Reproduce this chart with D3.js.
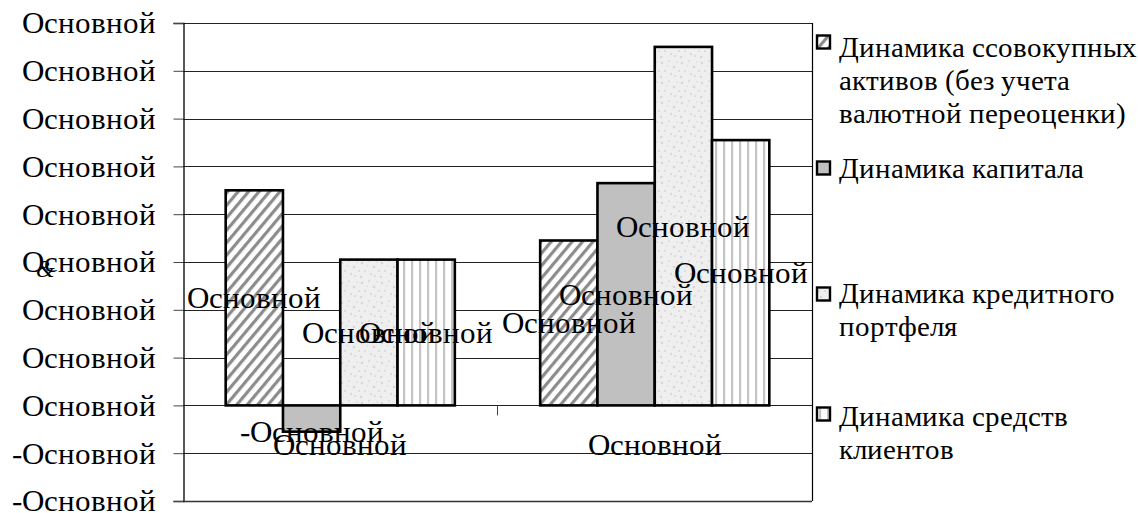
<!DOCTYPE html>
<html lang="ru"><head><meta charset="utf-8">
<script src="https://cdn.jsdelivr.net/npm/d3@7/dist/d3.min.js"></script>
<style>
@font-face { font-family: "ChartSerif"; src: local("Liberation Serif"), local("LiberationSerif"), local("LiberationSerif-Regular"), local("Tinos"), local("Times New Roman"); font-style: normal; font-weight: 400; }
@font-face { font-family: "ChartSerif"; src: local("Liberation Serif Italic"), local("LiberationSerif-Italic"), local("Tinos Italic"); font-style: italic; font-weight: 400; }
body { margin: 0; background: #fff; }
</style>
</head><body>
<script>
const categories = ["Основной", "Основной"];
const seriesNames = [
  ["Динамика ссовокупных", "активов (без учета", "валютной переоценки)"],
  ["Динамика капитала"],
  ["Динамика кредитного", "портфеля"],
  ["Динамика средств", "клиентов"]
];
const assets = [4.5, 3.45];
const capital = [-0.55, 4.65];
const loans = [3.05, 7.5];
const deposits = [3.05, 5.55];
const tickValues = [-2, -1, 0, 1, 2, 3, 4, 5, 6, 7, 8];
const tickLabels = ["-Основной", "-Основной", "Основной", "Основной", "Основной", "Основной", "Основной", "Основной", "Основной", "Основной", "Основной"];
const dataLabel = "Основной";

const series = [assets, capital, loans, deposits];
const W = 1138, H = 513;
const L = 183, R = 812, T = 23, B = 501;
const fs = 31, lfs = 30;
const FAMILY = '"ChartSerif", "Liberation Serif", "Tinos", "Times New Roman", "FreeSerif", "DejaVu Serif"';

function serif(sel, size) {
  return sel.style("font-family", FAMILY).style("font-size", size + "px").attr("fill", "#000");
}

const svg = d3.select("body").append("svg").attr("width", W).attr("height", H).style("display", "block");
const defs = svg.append("defs");
const p1 = defs.append("pattern").attr("id", "p0").attr("patternUnits", "userSpaceOnUse")
  .attr("width", 8).attr("height", 8).attr("patternTransform", "rotate(40)");
p1.append("rect").attr("width", 8).attr("height", 8).attr("fill", "#fff");
p1.append("rect").attr("width", 3.2).attr("height", 8).attr("fill", "#8c8c8c");
defs.append("pattern").attr("id", "p1").attr("patternUnits", "userSpaceOnUse")
  .attr("width", 4).attr("height", 4).append("rect").attr("width", 4).attr("height", 4).attr("fill", "#c0c0c0");
const stippleDots = [[2,3,1.2],[9,1,0.9],[14,7,1.3],[5,11,1],[11,14,1.1],[17,2,0.8],[1,17,1.2],[7,6,0.7],[15,16,0.9],[19,11,1]];
const p3 = defs.append("pattern").attr("id", "p2").attr("patternUnits", "userSpaceOnUse").attr("width", 20).attr("height", 20);
p3.append("rect").attr("width", 20).attr("height", 20).attr("fill", "#efefef");
p3.selectAll("circle").data(stippleDots).join("circle").attr("cx", d => d[0]).attr("cy", d => d[1]).attr("r", d => d[2]).attr("fill", "#d6d6d6");
const p4 = defs.append("pattern").attr("id", "p3").attr("patternUnits", "userSpaceOnUse").attr("width", 8).attr("height", 8);
p4.append("rect").attr("width", 8).attr("height", 8).attr("fill", "#fff");
p4.append("rect").attr("x", 3).attr("width", 2.2).attr("height", 8).attr("fill", "#c4c4c4");

const y = d3.scaleLinear().domain([-2, 8]).range([B, T]);
const x0 = d3.scaleBand().domain(d3.range(categories.length)).range([L, R]);
const x1 = d3.scaleBand().domain(d3.range(series.length)).range([0, x0.bandwidth()]).paddingOuter(0.745);

svg.append("g").selectAll("line").data(tickValues).join("line")
  .attr("x1", L).attr("x2", R).attr("y1", d => Math.round(y(d)) + 0.5).attr("y2", d => Math.round(y(d)) + 0.5)
  .attr("stroke", "#222").attr("stroke-width", 1);
const yAxis = d3.axisLeft(y).tickValues(tickValues).tickSize(10).tickPadding(18)
  .tickFormat((d, i) => tickLabels[i]);
const gy = svg.append("g").attr("transform", `translate(${L + 0.5},0)`).call(yAxis);
gy.attr("font-family", null).attr("font-size", null);
gy.select(".domain").attr("stroke", "#000").attr("stroke-width", 1.3);
gy.selectAll(".tick line").attr("stroke", "#444");
serif(gy.selectAll(".tick text"), fs).attr("dy", "0.32em");
svg.append("line").attr("x1", R + 0.5).attr("x2", R + 0.5).attr("y1", T).attr("y2", B).attr("stroke", "#000").attr("stroke-width", 1.2);
svg.append("line").attr("x1", L).attr("x2", R).attr("y1", B + 0.5).attr("y2", B + 0.5).attr("stroke", "#333").attr("stroke-width", 1.6);
svg.append("g").selectAll("line").data(d3.range(1, categories.length)).join("line")
  .attr("x1", d => x0(d)).attr("x2", d => x0(d)).attr("y1", y(0)).attr("y2", y(0) + 10).attr("stroke", "#444");

const gb = svg.append("g");
series.forEach((vals, si) => {
  gb.selectAll(null).data(vals).join("rect")
    .attr("x", (d, ci) => x0(ci) + x1(si))
    .attr("width", x1.bandwidth())
    .attr("y", d => y(Math.max(0, d)))
    .attr("height", d => Math.abs(y(d) - y(0)))
    .attr("fill", `url(#p${si})`)
    .attr("stroke", "#000").attr("stroke-width", 2.6);
});
serif(svg.append("g").selectAll("text").data(categories).join("text")
  .attr("x", (d, i) => x0(i) + x0.bandwidth() / 2).attr("y", y(0) + 50)
  .attr("text-anchor", "middle"), fs).text(d => d);
const gl = svg.append("g");
series.forEach((vals, si) => {
  serif(gl.selectAll(null).data(vals).join("text")
    .attr("x", (d, ci) => x0(ci) + x1(si) + x1.bandwidth() / 2)
    .attr("y", d => d < 0 ? y(d) + 10 : y(d / 2) + 10.5)
    .attr("text-anchor", "middle"), fs)
    .text(d => (d < 0 ? "-" : "") + dataLabel);
});
serif(svg.append("text").attr("x", 36).attr("y", 277), 24).style("font-style", "italic").text("&");

const legendY = [42, 168, 294, 414];
const lineStarts = [[57, 90, 123], [178], [303, 336], [426, 459]];
const lg = svg.append("g");
seriesNames.forEach((lines, i) => {
  lg.append("rect").attr("x", 817).attr("y", legendY[i] - 6.5).attr("width", 13).attr("height", 13)
    .attr("fill", `url(#p${i})`).attr("stroke", "#000").attr("stroke-width", 2.4);
  lines.forEach((t, j) => {
    serif(lg.append("text").attr("x", 839).attr("y", lineStarts[i][j]), lfs).attr("class", "leg").text(t);
  });
});

// keep legend lines inside the window once fonts are resolved
function fitLegend() {
  const maxW = W - 839 - 3;
  let widest = 0;
  lg.selectAll("text.leg").each(function () { widest = Math.max(widest, this.getComputedTextLength()); });
  const size = widest > maxW ? Math.floor(lfs * maxW / widest * 10) / 10 : lfs;
  lg.selectAll("text.leg").style("font-size", size + "px");
}
if (document.fonts && document.fonts.ready) document.fonts.ready.then(fitLegend); else fitLegend();
</script>
</body></html>
